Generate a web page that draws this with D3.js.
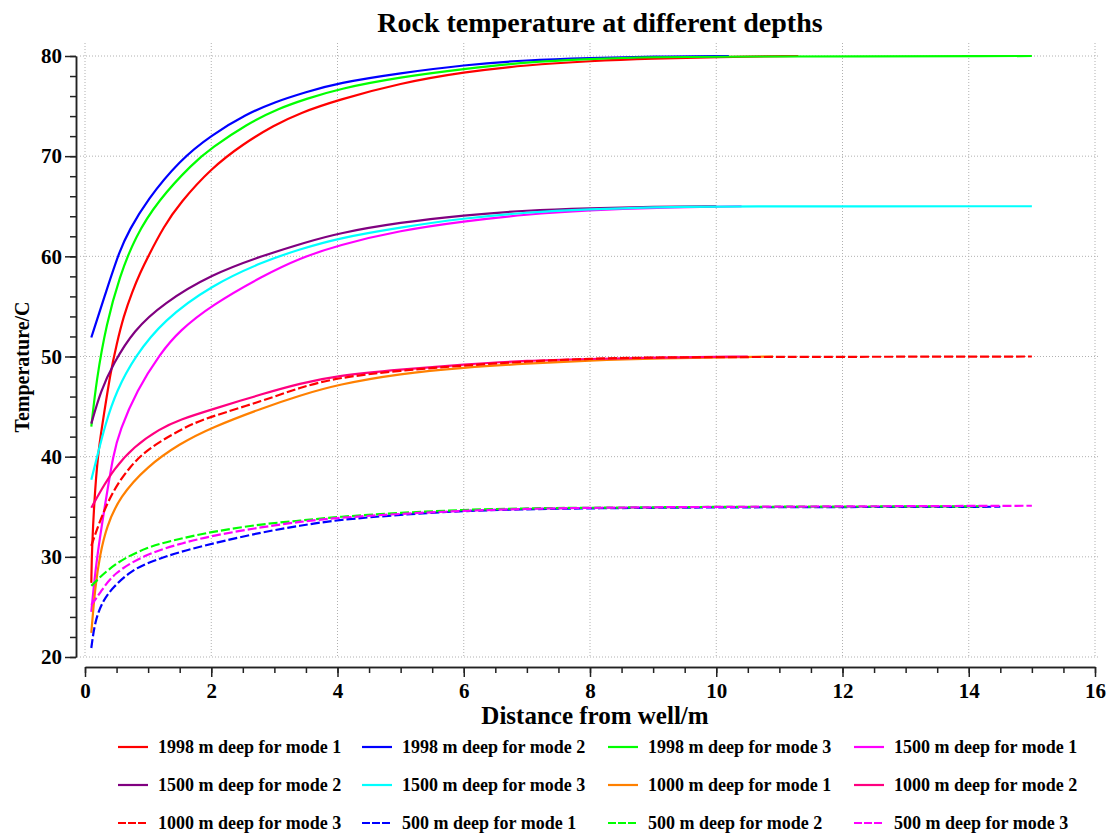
<!DOCTYPE html>
<html>
<head>
<meta charset="utf-8">
<script src="https://cdn.jsdelivr.net/npm/d3@7"></script>
<style>
  html, body { margin: 0; padding: 0; background: #fff; }
  svg { display: block; font-family: "Liberation Serif", "Times New Roman", serif; font-weight: bold; }
</style>
</head>
<body>
<div id="chart"></div>
<script>
(function () {
  'use strict';

  // ---- data (x = distance from well in m, y = temperature in C) ----
  var d1998m1 = [[0.1,27.4],[0.11,31],[0.16,37],[0.22,41],[0.29,43.8],[0.4,48.3],[0.5,51.2],[0.61,54],[0.75,56.5],[0.87,58.3],[1,60],[1.25,63],[1.5,65.3],[2,68.8],[2.5,71.2],[3,73.1],[3.4,74.3],[4,75.6],[5,77.3],[6,78.4],[7,79.1],[8,79.5],[9,79.75],[10,79.9],[11.3,80]];
  var d1998m2 = [[0.1,51.9],[0.34,56.6],[0.55,60.6],[0.7,62.6],[0.98,65.6],[1.5,69.6],[2,72.1],[2.56,74.2],[3,75.4],[3.5,76.4],[4,77.3],[5,78.3],[6,79.1],[7,79.6],[8,79.8],[9,79.95],[10.2,80]];
  var d1998m3 = [[0.1,43],[0.18,47.6],[0.34,53.3],[0.55,58],[0.79,61.9],[1.16,65.6],[1.71,69.3],[2,70.8],[2.56,73.2],[3.08,74.8],[3.5,75.7],[4,76.7],[5,77.9],[6,78.7],[7,79.4],[8,79.7],[9,79.9],[10,79.95],[15,80]];
  var d1500m1 = [[0.1,24.5],[0.18,29.7],[0.32,35.3],[0.45,40.3],[0.55,42.6],[0.82,46.6],[1.19,50.3],[1.5,52.6],[2,55.1],[2.83,58.1],[3.4,59.8],[4,61.1],[5,62.6],[6,63.5],[7,64.2],[8,64.6],[9,64.85],[10.4,65]];
  var d1500m2 = [[0.1,43.3],[0.25,46.6],[0.45,49.3],[0.77,52.6],[1.24,55.3],[2,58.2],[2.83,60.1],[3.5,61.4],[4,62.3],[5,63.4],[6,64.1],[7,64.6],[8,64.8],[9,64.95],[10,65]];
  var d1500m3 = [[0.1,37.7],[0.2,40.2],[0.32,43.2],[0.5,46.6],[0.79,50],[1.24,53.6],[2,57.1],[2.83,59.5],[3.4,60.7],[4,61.8],[5,62.9],[6,63.8],[7,64.4],[8,64.7],[9,64.9],[10,65],[15,65]];
  var d1000m1 = [[0.1,22.4],[0.16,27],[0.24,30.3],[0.34,33],[0.55,36],[0.98,39],[1.5,41.3],[2,42.9],[2.83,44.9],[3.4,46.1],[4,47.2],[5,48.3],[6,48.9],[7,49.3],[8,49.6],[9,49.8],[10.9,50]];
  var d1000m2 = [[0.1,34.9],[0.25,36.6],[0.45,38.7],[0.77,41],[1.19,42.8],[1.5,43.7],[2,44.7],[2.83,46.3],[3.4,47.3],[4,48.1],[5,48.7],[6,49.2],[7,49.6],[8,49.75],[9,49.9],[10.5,50]];
  var d1000m3 = [[0.1,31.1],[0.24,33.7],[0.45,36.7],[0.71,39],[0.98,40.7],[1.4,42.3],[1.71,43.3],[2,44],[2.83,45.6],[3.4,46.9],[4,47.9],[5,48.6],[6,49.1],[7,49.5],[8,49.8],[9,49.9],[10,49.95],[15,50]];
  var d500m1  = [[0.1,20.9],[0.16,23.7],[0.29,25.7],[0.45,27],[0.71,28.5],[0.98,29.4],[1.5,30.5],[2,31.3],[2.83,32.5],[3.4,33.1],[4,33.7],[5,34.2],[6,34.6],[7,34.75],[8,34.85],[10,34.95],[14.5,35]];
  var d500m2  = [[0.1,27.1],[0.45,29.3],[0.98,31],[1.5,31.8],[2,32.5],[2.83,33.3],[3.4,33.6],[4,34],[5,34.4],[6,34.7],[7,34.85],[8,34.9],[10,35],[14.3,35.05]];
  var d500m3  = [[0.1,25.2],[0.24,26.4],[0.45,28.4],[0.98,30.3],[1.5,31.3],[2,32.1],[2.83,33],[3.4,33.5],[4,33.9],[5,34.3],[6,34.6],[7,34.8],[8,34.9],[10,35],[15,35.1]];

  var seriesData   = [d1998m1, d1998m2, d1998m3, d1500m1, d1500m2, d1500m3, d1000m1, d1000m2, d1000m3, d500m1, d500m2, d500m3];
  var seriesNames  = ['1998 m deep for mode 1', '1998 m deep for mode 2', '1998 m deep for mode 3', '1500 m deep for mode 1',
                      '1500 m deep for mode 2', '1500 m deep for mode 3', '1000 m deep for mode 1', '1000 m deep for mode 2',
                      '1000 m deep for mode 3', '500 m deep for mode 1', '500 m deep for mode 2', '500 m deep for mode 3'];
  var seriesColors = ['#ff0000', '#0000ff', '#00ff00', '#ff00ff', '#800080', '#00ffff', '#ff8000', '#ff0080',
                      '#ff0000', '#0000ff', '#00ff00', '#ff00ff'];
  var seriesDashed = [false, false, false, false, false, false, false, false, true, true, true, true];

  var xTicks = d3.range(0, 17, 2);
  var yTicks = d3.range(20, 81, 10);

  var W = 1115, H = 836;
  var svg = d3.select('#chart').append('svg')
    .attr('width', W).attr('height', H)
    .attr('viewBox', '0 0 ' + W + ' ' + H);

  var x = d3.scaleLinear().domain([0, 16]).range([85, 1095]);
  var y = d3.scaleLinear().domain([20, 80]).range([657, 56]);

  // Grid
  var grid = svg.append('g').attr('stroke', '#b0b0b0').attr('stroke-width', 1).attr('stroke-dasharray', '1,2');
  xTicks.forEach(function (v) {
    grid.append('line').attr('x1', x(v)).attr('x2', x(v)).attr('y1', 43).attr('y2', 657);
  });
  yTicks.forEach(function (v) {
    grid.append('line').attr('x1', 80).attr('x2', 1100).attr('y1', y(v)).attr('y2', y(v));
  });

  // Axes
  function styleAxis(ax) {
    ax.select('.domain').attr('stroke', '#222').attr('stroke-width', 1.5);
    ax.selectAll('.tick line').attr('stroke', '#222').attr('stroke-width', 1.5);
    ax.selectAll('text').attr('font-size', 21).attr('fill', '#000')
      .style('font-family', '"Liberation Serif", "Times New Roman", serif').style('font-weight', 'bold');
  }

  svg.append('g').attr('transform', 'translate(0,667)')
    .call(d3.axisBottom(x).tickValues(d3.range(0, 16.01, 0.5)).tickSize(6).tickSizeOuter(0).tickFormat(''))
    .call(styleAxis);
  svg.append('g').attr('transform', 'translate(0,667)')
    .call(d3.axisBottom(x).tickValues(xTicks).tickSize(10).tickSizeOuter(0).tickPadding(6).tickFormat(d3.format('d')))
    .call(styleAxis);

  svg.append('g').attr('transform', 'translate(76,0)')
    .call(d3.axisLeft(y).tickValues(d3.range(20, 80.01, 2)).tickSize(6).tickSizeOuter(0).tickFormat(''))
    .call(styleAxis);
  svg.append('g').attr('transform', 'translate(76,0)')
    .call(d3.axisLeft(y).tickValues(yTicks).tickSize(11).tickSizeOuter(0).tickPadding(3).tickFormat(d3.format('d')))
    .call(styleAxis);

  // Curves
  var line = d3.line()
    .x(function (d) { return x(d[0]); })
    .y(function (d) { return y(d[1]); })
    .curve(d3.curveBasis);

  seriesData.forEach(function (data, i) {
    svg.append('path')
      .datum(data)
      .attr('fill', 'none')
      .attr('stroke', seriesColors[i])
      .attr('stroke-width', 2.2)
      .attr('stroke-dasharray', seriesDashed[i] ? '9,3' : null)
      .attr('d', line);
  });

  // Titles
  svg.append('text').attr('x', 600).attr('y', 32).attr('text-anchor', 'middle')
    .attr('font-size', 28).text('Rock temperature at different depths');
  svg.append('text').attr('x', 595).attr('y', 724).attr('text-anchor', 'middle')
    .attr('font-size', 25).text('Distance from well/m');
  svg.append('text').attr('transform', 'translate(29,367) rotate(-90)').attr('text-anchor', 'middle')
    .attr('font-size', 20).text('Temperature/C');

  // Legend
  var colX = [118, 362, 608, 854];
  var rowY = [747, 785, 823];
  seriesNames.forEach(function (name, i) {
    var cx = colX[i % 4], cy = rowY[Math.floor(i / 4)];
    svg.append('line')
      .attr('x1', cx).attr('x2', cx + 30).attr('y1', cy).attr('y2', cy)
      .attr('stroke', seriesColors[i]).attr('stroke-width', 2.2)
      .attr('stroke-dasharray', seriesDashed[i] ? '8,2' : null);
    svg.append('text').attr('x', cx + 40).attr('y', cy + 6)
      .attr('font-size', 18).text(name);
  });
}());
</script>
</body>
</html>
